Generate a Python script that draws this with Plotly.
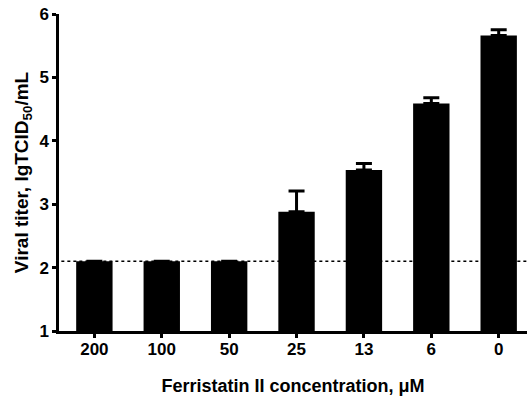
import plotly.graph_objects as go

categories = ["200", "100", "50", "25", "13", "6", "0"]
titer = [2.1, 2.1, 2.1, 2.88, 3.54, 4.59, 5.66]
err_up = [None, None, None, 0.33, 0.10, 0.09, 0.09]
detection_limit = 2.1

font_family = "Liberation Sans, Arial, sans-serif"

fig = go.Figure()
fig.add_trace(go.Bar(
    x=list(range(len(categories))),
    y=titer,
    width=0.54,
    marker=dict(color="black", line=dict(width=0)),
    error_y=dict(type="data", symmetric=False, array=err_up,
                 arrayminus=[None]*len(err_up), color="black",
                 thickness=3, width=8, visible=True),
))

fig.add_shape(type="line", xref="paper", yref="y", x0=0.005, x1=1,
              y0=detection_limit, y1=detection_limit,
              line=dict(color="black", width=1.3, dash="dot"), layer="below")

fig.update_layout(
    width=527, height=399,
    margin=dict(l=59, r=0, t=14, b=68, autoexpand=False),
    plot_bgcolor="white", paper_bgcolor="white",
    showlegend=False,
    font=dict(family=font_family, color="black", size=17, weight="bold"),
    xaxis=dict(
        range=[-0.525, 6.42],
        tickmode="array",
        tickvals=list(range(len(categories))),
        ticktext=categories,
        showline=True, linecolor="black", linewidth=2.5,
        ticks="outside", ticklen=4, tickwidth=2.5, tickcolor="black",
        ticklabelstandoff=-3,
        showgrid=False, zeroline=False, automargin=False,
        tickfont=dict(size=17, weight="bold", family=font_family),
        title=dict(text="Ferristatin II concentration, \u03bcM",
                   font=dict(size=18, weight="bold", family=font_family),
                   standoff=22),
    ),
    yaxis=dict(
        range=[1, 6],
        tickvals=[1, 2, 3, 4, 5, 6],
        showline=True, linecolor="black", linewidth=2.5,
        ticks="outside", ticklen=4, tickwidth=2.5, tickcolor="black",
        showgrid=False, zeroline=False, automargin=False,
        tickfont=dict(size=17, weight="bold", family=font_family),
        title=dict(text="Viral titer, lgTCID<sub>50</sub>/mL",
                   font=dict(size=19, weight="bold", family=font_family),
                   standoff=6),
    ),
)

fig.write_html("out.html", config={"displayModeBar": False},
               post_script="document.body.style.margin='0';document.body.style.overflow='hidden';")
